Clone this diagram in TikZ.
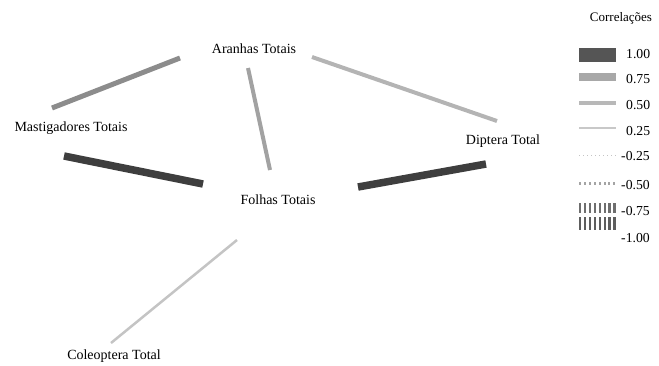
\documentclass[tikz,border=0pt]{standalone}
\usepackage{fontspec}
\setmainfont{Liberation Serif}
\definecolor{edgeA}{HTML}{8C8C8C}
\definecolor{edgeB}{HTML}{A2A2A2}
\definecolor{edgeC}{HTML}{B4B4B4}
\definecolor{edgeD}{HTML}{C4C4C4}
\definecolor{edgeDark}{HTML}{3E3E3E}
\definecolor{legOne}{HTML}{555555}
\definecolor{legTwo}{HTML}{A8A8A8}
\definecolor{legThree}{HTML}{B8B8B8}
\definecolor{legFour}{HTML}{C8C8C8}
\definecolor{legNegOne}{HTML}{C4C4C4}
\definecolor{legNegTwo}{HTML}{A4A4A4}
\definecolor{legNegThree}{HTML}{6E6E6E}
\definecolor{legNegFour}{HTML}{5E5E5E}
\begin{document}
\begin{tikzpicture}[x=1pt,y=-1pt,
  lbl/.style={inner sep=0pt,font=\fontsize{14}{16}\selectfont},
  leglbl/.style={inner sep=0pt,anchor=west,font=\fontsize{13.7}{16}\selectfont},
  corr/.style={line cap=butt}]
\useasboundingbox (0,0) rectangle (659,365);
% labels
\node[lbl] (aran) at (254,49) {Aranhas Totais};
\node[lbl] (mast) at (71,128) {Mastigadores Totais};
\node[lbl] (folh) at (278,200) {Folhas Totais};
\node[lbl] (dipt) at (503,141) {Diptera Total};
\node[lbl] (cole) at (114,356) {Coleoptera Total};
% edge end points
\coordinate (am1) at (180,58);  \coordinate (am2) at (52,108);
\coordinate (af1) at (248,68);  \coordinate (af2) at (270,170);
\coordinate (ad1) at (312,57);  \coordinate (ad2) at (497,121);
\coordinate (mf1) at (64,156);  \coordinate (mf2) at (203,184);
\coordinate (fd1) at (358,187); \coordinate (fd2) at (486,164);
\coordinate (fc1) at (237,240); \coordinate (fc2) at (111,343);
% edges
\draw[corr,edgeA,line width=5pt] (am1) -- (am2);
\draw[corr,edgeB,line width=4pt] (af1) -- (af2);
\draw[corr,edgeC,line width=4pt] (ad1) -- (ad2);
\draw[corr,edgeDark,line width=7.5pt] (mf1) -- (mf2);
\draw[corr,edgeDark,line width=7.5pt] (fd1) -- (fd2);
\draw[corr,edgeD,line width=2.5pt] (fc1) -- (fc2);
% legend
\node[inner sep=0pt,font=\fontsize{13}{15}\selectfont] (legt) at (621,18) {Correlações};
\fill[legOne] (579,48) rectangle (616,62);
\node[leglbl] (l1) at (626,54) {1.00};
\fill[legTwo] (579,73) rectangle (616,81);
\node[leglbl] (l2) at (626,79) {0.75};
\fill[legThree] (579,101) rectangle (616,105);
\node[leglbl] (l3) at (626,105) {0.50};
\fill[legFour] (579,127) rectangle (616,129);
\node[leglbl] (l4) at (626,131) {0.25};
\foreach \i in {0,...,9} \fill[legNegOne] (578.5+\i*4,154.5) rectangle ++(1.4,1.4);
\node[leglbl] (l5) at (621,156) {-0.25};
\foreach \i in {0,...,7} \fill[legNegTwo] (579+\i*4.9,181.5) rectangle ++(2,3);
\node[leglbl] (l6) at (621,185) {-0.50};
\foreach \i in {0,...,7} \fill[legNegThree] (579+\i*4.9,203) rectangle ++(2.2,10);
\node[leglbl] (l7) at (621,211) {-0.75};
\foreach \i in {0,...,7} \fill[legNegFour] (579+\i*4.9,217) rectangle ++(2.4,13);
\node[leglbl] (l8) at (621,238) {-1.00};
\end{tikzpicture}
\end{document}
